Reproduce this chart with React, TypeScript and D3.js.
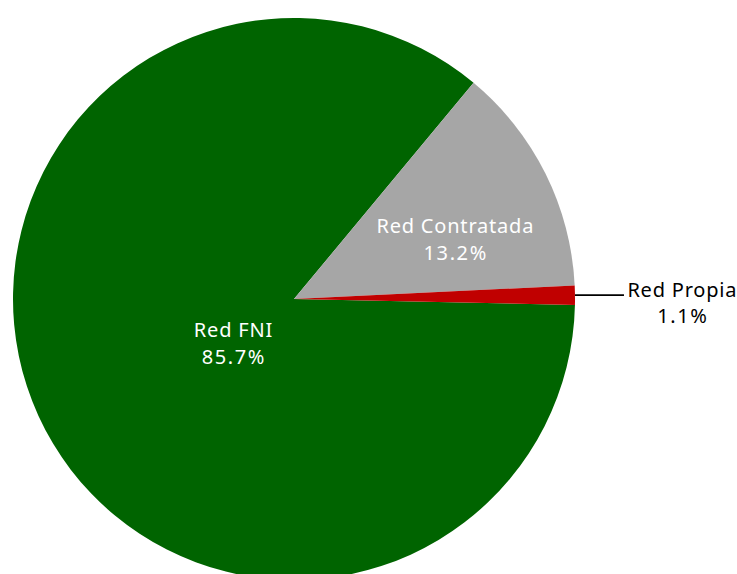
import React from "react";
import * as d3 from "d3";

const categories = ["Red FNI", "Red Contratada", "Red Propia"];
const values = [85.7, 13.2, 1.1];
const valueLabels = ["85.7%", "13.2%", "1.1%"];
const colors = ["#006400", "#A6A6A6", "#C00000"];
const textColors = ["#FFFFFF", "#FFFFFF", "#000000"];

const W = 737;
const H = 574;
const CX = 294;
const CY = 299;
const R = 281;
const START_DEG = -268.8;
const FONT = "'Noto Sans', sans-serif";
const FONT_SIZE = 20;

// label placement: [radius fraction, angle offset deg from mid-angle]
const labelPlacement = [
  { rf: 0.284, da: -15.6, outside: false },
  { rf: 0.603, da: 8.3, outside: false },
  { rf: 0, da: 0, outside: true },
];

function Label({ x, y1, y2, name, val, color }: { x: number; y1: number; y2: number; name: string; val: string; color: string }) {
  return (
    <g fontFamily={FONT} fontSize={FONT_SIZE} fill={color} textAnchor="middle">
      <text x={x + 0.4} y={y1} letterSpacing={0.8}>
        {name}
      </text>
      <text x={x + 0.8} y={y2} letterSpacing={1.6}>
        {val}
      </text>
    </g>
  );
}

export default function App() {
  const pie = d3
    .pie<number>()
    .sort(null)
    .value((d) => d)
    .startAngle((START_DEG * Math.PI) / 180)
    .endAngle((START_DEG * Math.PI) / 180 + 2 * Math.PI);
  const arcs = pie(values);
  const arc = d3.arc<d3.PieArcDatum<number>>().innerRadius(0).outerRadius(R);

  return (
    <svg width={W} height={H} style={{ position: "absolute", left: 0, top: 0 }}>
      <rect width={W} height={H} fill="#fff" />
      <g transform={`translate(${CX},${CY})`}>
        {arcs.map((a, i) => (
          <path key={i} d={arc(a) || ""} fill={colors[i]} />
        ))}
        {arcs.map((a, i) => {
          const p = labelPlacement[i];
          const mid = (a.startAngle + a.endAngle) / 2;
          if (p.outside) {
            const x0 = Math.sin(mid) * R;
            const y0 = -Math.cos(mid) * R;
            const x1 = x0 + 49;
            const tx = x0 + 107;
            return (
              <g key={"l" + i}>
                <line x1={x0} y1={y0} x2={x1} y2={y0} stroke="#000" strokeWidth={1.75} />
                <Label x={tx} y1={y0 + 2} y2={y0 + 28} name={categories[i]} val={valueLabels[i]} color={textColors[i]} />
              </g>
            );
          }
          const ang = mid + (p.da * Math.PI) / 180;
          const x = Math.sin(ang) * R * p.rf;
          const y = -Math.cos(ang) * R * p.rf;
          return (
            <Label key={"l" + i} x={x} y1={y - 13.5} y2={y + 13.5} name={categories[i]} val={valueLabels[i]} color={textColors[i]} />
          );
        })}
      </g>
    </svg>
  );
}
